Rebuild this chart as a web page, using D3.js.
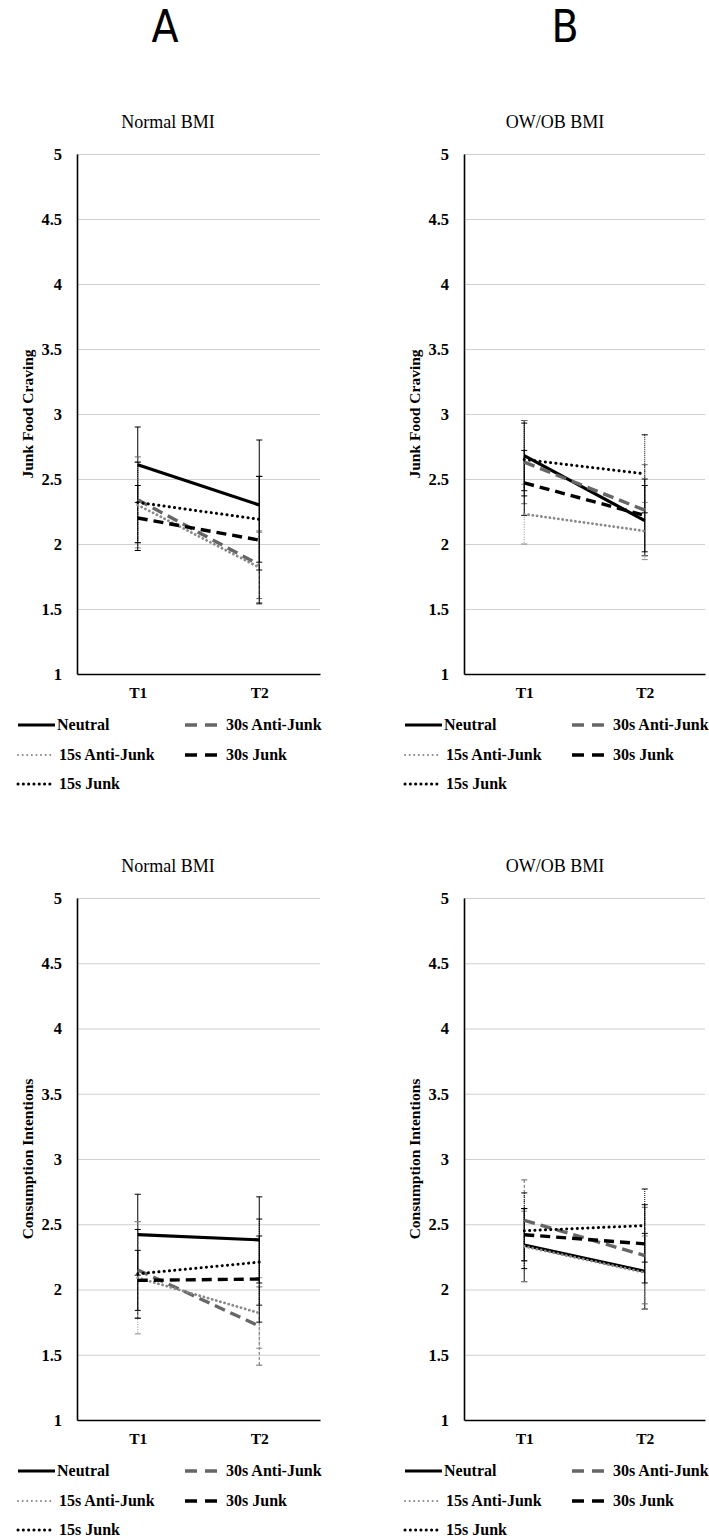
<!DOCTYPE html>
<html>
<head>
<meta charset="utf-8">
<script src="https://cdn.jsdelivr.net/npm/d3@7"></script>
<style>
  html, body { margin: 0; padding: 0; background: #fff; }
  svg { display: block; }
</style>
</head>
<body>
<svg id="chart"></svg>
<script>
// ---- data ----
const seriesNames = ["Neutral", "30s Anti-Junk", "15s Anti-Junk", "30s Junk", "15s Junk"];
const timePoints = ["T1", "T2"];
const yTicks = [1, 1.5, 2, 2.5, 3, 3.5, 4, 4.5, 5];
const columnLetters = ["A", "B"];
const panelTitles = ["Normal BMI", "OW/OB BMI"];
const rowLabels = ["Junk Food Craving", "Consumption Intentions"];

// means per series [T1, T2]
const cravingNormal = [[2.61, 2.30], [2.34, 1.84], [2.30, 1.82], [2.20, 2.03], [2.32, 2.19]];
const cravingOverweight = [[2.68, 2.18], [2.63, 2.26], [2.23, 2.10], [2.47, 2.22], [2.65, 2.54]];
const intentNormal = [[2.42, 2.38], [2.15, 1.72], [2.09, 1.82], [2.07, 2.08], [2.12, 2.21]];
const intentOverweight = [[2.34, 2.14], [2.53, 2.26], [2.33, 2.13], [2.42, 2.35], [2.45, 2.49]];

// error bar half widths per series [T1, T2]
const cravingNormalErr = [[0.29, 0.50], [0.33, 0.26], [0.33, 0.27], [0.25, 0.49], [0.31, 0.33]];
const cravingOverweightErr = [[0.27, 0.27], [0.32, 0.35], [0.23, 0.22], [0.25, 0.28], [0.28, 0.30]];
const intentNormalErr = [[0.31, 0.33], [0.37, 0.30], [0.43, 0.27], [0.23, 0.33], [0.34, 0.33]];
const intentOverweightErr = [[0.28, 0.29], [0.31, 0.37], [0.27, 0.28], [0.20, 0.30], [0.29, 0.28]];

const W = 709, H = 1539;
const FONT = "'Liberation Serif', 'Times New Roman', serif";

// line styles for each series
const STYLES = [
  { color: "#000", width: 3.2, dash: null, cap: "butt", errDash: null },
  { color: "#666", width: 3.4, dash: "11 6", cap: "butt", errDash: "3 2" },
  { color: "#8a8a8a", width: 2.8, dash: "0.1 4.2", cap: "round", errDash: "1 1.5" },
  { color: "#000", width: 3.4, dash: "10 6", cap: "butt", errDash: null },
  { color: "#000", width: 3.0, dash: "0.1 5.2", cap: "round", errDash: "1 1" }
];

const svg = d3.select("#chart").attr("width", W).attr("height", H);

// column letters
const letterX = [165, 565];
columnLetters.forEach((l, i) => {
  svg.append("text")
    .attr("x", 0)
    .attr("y", 0)
    .attr("text-anchor", "middle")
    .style("font-family", "'DejaVu Sans', sans-serif")
    .style("font-size", "44px")
    .attr("transform", `translate(${letterX[i]},42) scale(0.9,1)`)
    .text(l);
});

const panels = [
  { col: 0, row: 0, means: cravingNormal, errs: cravingNormalErr },
  { col: 1, row: 0, means: cravingOverweight, errs: cravingOverweightErr },
  { col: 0, row: 1, means: intentNormal, errs: intentNormalErr },
  { col: 1, row: 1, means: intentOverweight, errs: intentOverweightErr }
];

const colX = [[77, 320], [464, 705]];
const rowY = [[674, 154], [1420, 898]];

panels.forEach(p => drawPanel(p));

function drawPanel(p) {
  const [x0, x1] = colX[p.col];
  const [y1, y5] = rowY[p.row];

  const x = d3.scalePoint().domain(timePoints).range([x0, x1]).padding(0.5);
  const y = d3.scaleLinear().domain([1, 5]).range([y1, y5]);

  const g = svg.append("g");

  // gridlines
  g.append("g")
    .attr("transform", `translate(${x0},0)`)
    .call(d3.axisLeft(y).tickValues(yTicks.slice(1)).tickSize(-(x1 - x0)).tickFormat(""))
    .call(a => a.select(".domain").remove())
    .call(a => a.selectAll("line").attr("stroke", "#cfcfcf").attr("stroke-width", 1.2));

  // y axis
  g.append("g")
    .attr("transform", `translate(${x0},0)`)
    .call(d3.axisLeft(y).tickValues(yTicks).tickFormat(d3.format("~g")).tickSize(0).tickPadding(15).tickSizeOuter(0))
    .call(a => a.select(".domain").attr("stroke", "#000").attr("stroke-width", 1.6))
    .call(a => a.selectAll("text")
      .style("font-family", FONT).style("font-size", "16.5px").style("font-weight", "bold").attr("fill", "#000"));

  // x axis
  g.append("g")
    .attr("transform", `translate(0,${y1})`)
    .call(d3.axisBottom(x).tickSize(0).tickPadding(13).tickSizeOuter(0))
    .call(a => a.select(".domain").attr("stroke", "#000").attr("stroke-width", 1.6))
    .call(a => a.selectAll("text")
      .style("font-family", FONT).style("font-size", "15.5px").style("font-weight", "bold").attr("fill", "#000"));

  // panel title
  g.append("text")
    .attr("x", x0 + 91)
    .attr("y", y5 - 26)
    .attr("text-anchor", "middle")
    .style("font-family", FONT)
    .style("font-size", "18px")
    .text(panelTitles[p.col]);

  // y axis title
  const cy = (y1 + y5) / 2;
  const tx = x0 - 44;
  g.append("text")
    .attr("transform", `translate(${tx},${cy}) rotate(-90)`)
    .attr("text-anchor", "middle")
    .style("font-family", FONT)
    .style("font-size", "15.5px")
    .style("font-weight", "bold")
    .text(rowLabels[p.row]);

  // error bars
  p.means.forEach((m, si) => {
    const st = STYLES[si];
    timePoints.forEach((t, ti) => {
      const cx = x(t);
      const hi = y(m[ti] + p.errs[si][ti]);
      const lo = y(m[ti] - p.errs[si][ti]);
      const eg = g.append("g")
        .attr("stroke", st.color)
        .attr("stroke-width", 1);
      eg.append("line").attr("x1", cx).attr("x2", cx).attr("y1", hi).attr("y2", lo)
        .attr("stroke-dasharray", st.errDash);
      [hi, lo].forEach(v => {
        eg.append("line").attr("x1", cx - 3).attr("x2", cx + 3).attr("y1", v).attr("y2", v);
      });
    });
  });

  // lines
  const line = d3.line().x((d, i) => x(timePoints[i])).y(d => y(d));
  p.means.forEach((m, si) => {
    const st = STYLES[si];
    g.append("path")
      .datum(m)
      .attr("d", line)
      .attr("fill", "none")
      .attr("stroke", st.color)
      .attr("stroke-width", st.width)
      .attr("stroke-linecap", st.cap)
      .attr("stroke-dasharray", st.dash);
  });

  // legend
  const legendPos = [
    { lx: x0 - 59, row: 0 }, { lx: x0 + 108, row: 0 },
    { lx: x0 - 59, row: 1 }, { lx: x0 + 108, row: 1 },
    { lx: x0 - 59, row: 2 }
  ];
  const legendRowY = [y1 + 51, y1 + 81, y1 + 110];
  seriesNames.forEach((name, si) => {
    const st = STYLES[si];
    const pos = legendPos[si];
    const ly = legendRowY[pos.row];
    const len = si === 0 ? 37 : 33;
    const lg = g.append("g");
    lg.append("line")
      .attr("x1", pos.lx).attr("x2", pos.lx + len)
      .attr("y1", ly).attr("y2", ly)
      .attr("stroke", st.color)
      .attr("stroke-width", si === 2 ? 2 : st.width)
      .attr("stroke-linecap", st.cap)
      .attr("stroke-dasharray", si === 1 || si === 3 ? "12 8" : si === 2 ? "0.1 4.5" : st.dash);
    lg.append("text")
      .attr("x", si === 0 ? pos.lx + 39 : pos.lx + 41)
      .attr("y", ly + 5)
      .style("font-family", FONT)
      .style("font-size", "16px")
      .style("font-weight", "bold")
      .text(name);
  });
}
</script>
</body>
</html>
